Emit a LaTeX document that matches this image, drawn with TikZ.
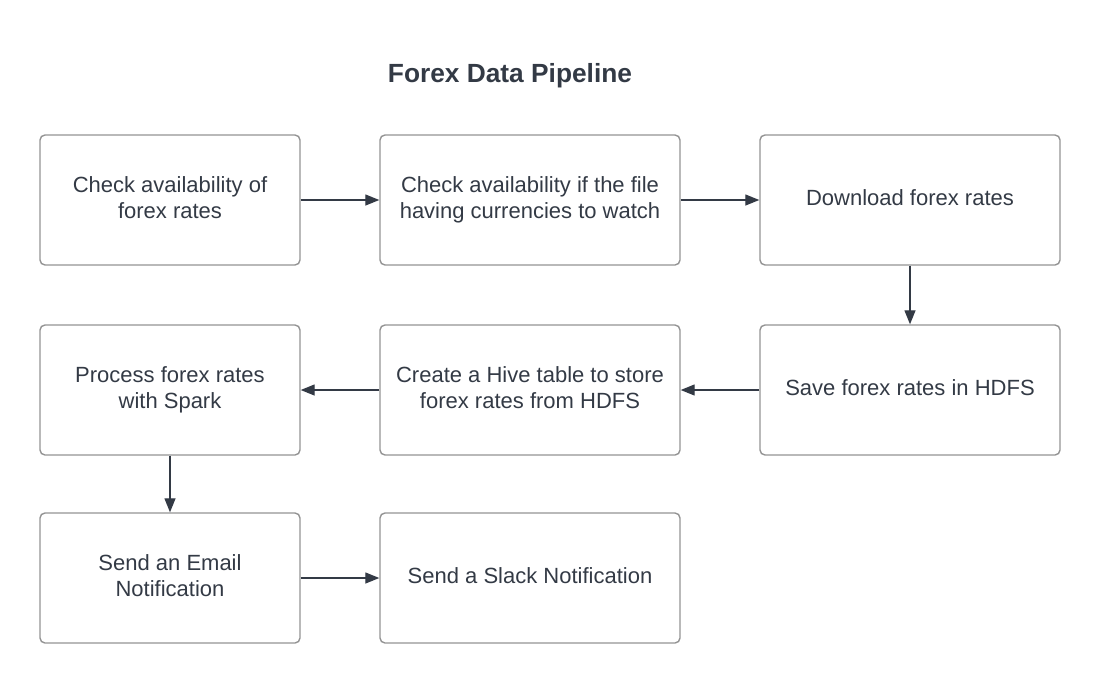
\documentclass[tikz,border=0pt]{standalone}
\usepackage{fontspec}
\setmainfont{Liberation Sans}
\usetikzlibrary{arrows.meta}
\definecolor{ink}{HTML}{333A45}
\definecolor{frame}{HTML}{939393}
\newcommand{\h}{130pt}

\begin{document}
\begin{tikzpicture}[x=1pt,y=-1pt,
    box/.style={draw=frame, line width=1.4pt, rounded corners=5pt, minimum height=\h, inner sep=0pt, align=center, text=ink, text depth=5pt, font=\fontsize{22}{26.5}\selectfont},
    narrow/.style={box, minimum width=260pt},
    wide/.style={box, minimum width=300pt},
    flow/.style={draw=ink, line width=1.3pt, -{Triangle[length=14pt,width=11pt]}}]
    \useasboundingbox (0,0) rectangle (1100,683);
    \node[text=ink, font=\bfseries\fontsize{26.3}{30}\selectfont] (title) at (510,76) {Forex Data Pipeline};

    % First row
    \node[narrow] (check-rates) at (170,200) {Check availability of\\forex rates};
    \node[wide] (check-file) at (530,200) {Check availability if the file\\having currencies to watch};
    \node[wide] (download) at (910,200) {Download forex rates};

    % Second row
    \node[narrow] (process) at (170,390) {Process forex rates\\with Spark};
    \node[wide] (hive) at (530,390) {Create a Hive table to store\\forex rates from HDFS};
    \node[wide] (save) at (910,390) {Save forex rates in HDFS};

    % Third row
    \node[narrow] (email) at (170,578) {Send an Email\\Notification};
    \node[wide] (slack) at (530,578) {Send a Slack Notification};

    \draw[flow] (check-rates) -- (check-file);
    \draw[flow] (check-file) -- (download);
    \draw[flow] (download) -- (save);
    \draw[flow] (save) -- (hive);
    \draw[flow] (hive) -- (process);
    \draw[flow] (process) -- (email);
    \draw[flow] (email) -- (slack);

\end{tikzpicture}
\end{document}
